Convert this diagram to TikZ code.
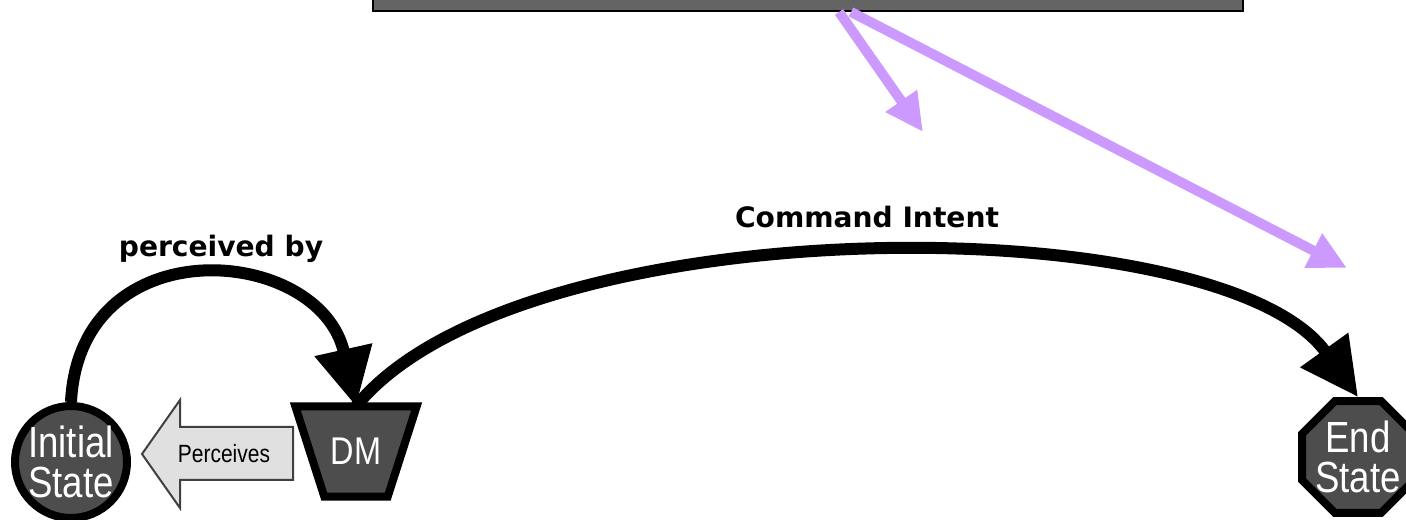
\documentclass[tikz,border=0pt]{standalone}
\usepackage{fontspec}
\setmainfont{Liberation Sans}
\newfontfamily\narrowsf[FakeStretch=0.84]{Liberation Sans}
\newfontfamily\labelsf{DejaVu Sans}
\usetikzlibrary{shapes.geometric, arrows.meta}
\definecolor{statefill}{RGB}{77,77,77}
\definecolor{bannergray}{RGB}{100,100,100}
\definecolor{intentpurple}{RGB}{204,153,255}
\definecolor{perceivegray}{RGB}{224,224,224}

\begin{document}
\begin{tikzpicture}[
  state/.style={draw=black, line width=0.08cm, fill=statefill, text=white, inner sep=-0.15cm,
    align=center, font=\narrowsf\fontsize{12.4}{11.4}\selectfont},
  flow/.style={line width=0.12cm, -{Triangle[length=0.58cm, width=0.56cm]}},
  intent/.style={intentpurple, line width=0.10cm, -{Triangle[length=0.38cm, width=0.36cm]}},
  flowlabel/.style={anchor=base, font=\labelsf\bfseries\fontsize{8}{9.6}\selectfont}
]
\useasboundingbox (0,0) rectangle (14.06,5.20);

% banner running off the top edge
\node[draw=black, line width=0.02cm, fill=bannergray, inner sep=0pt, anchor=south west,
  minimum width=8.70cm, minimum height=0.80cm] (banner) at (3.72,5.08) {};

% two purple pointers hanging from the banner
\coordinate (near) at (9.23,3.88);
\coordinate (far) at (13.47,2.52);
\draw[intent] ([xshift=0.31cm]banner.south) -- (near);
\draw[intent] ([xshift=0.43cm]banner.south) -- (far);

% states along the bottom
\node[state, circle, minimum size=1.12cm] (init) at (0.71,0.58) {Initial\\State};
\node[state, regular polygon, regular polygon sides=8, minimum size=1.21cm] (endst) at (13.58,0.63) {End\\State};

% decision maker: box sets the anchors, trapezoid drawn from its corners
\node[inner sep=0pt, minimum width=1.20cm, minimum height=0.89cm] (dm) at (3.56,0.685) {};
\draw[line width=0.08cm, fill=statefill]
  (dm.north west) -- (dm.north east) -- ([xshift=-0.29cm]dm.south east)
  -- ([xshift=0.29cm]dm.south west) -- cycle;
\node[text=white, font=\narrowsf\fontsize{11}{11}\selectfont] (dmtext) at (dm) {DM};

% block arrow from DM back to the initial state
\draw[draw=black!75, fill=perceivegray, line width=0.02cm]
  (1.42,0.66) -- (1.80,1.20) -- (1.80,0.93) -- (2.93,0.93) -- (2.93,0.40)
  -- (1.80,0.40) -- (1.80,0.12) -- cycle;
\node[font=\narrowsf\fontsize{7.1}{8}\selectfont] (perceives) at (2.24,0.66) {Perceives};

% curved links
\draw[flow] (init.north) .. controls (0.80,2.95) and (3.20,2.75) .. (dm.north);
\draw[flow] (dm.north) .. controls (5.20,3.15) and (12.20,3.15) .. (endst.north);

\node[flowlabel] (perceivedby) at (2.21,2.63) {perceived by};
\node[flowlabel] (cmdintent) at (8.67,2.92) {Command Intent};
\end{tikzpicture}
\end{document}
